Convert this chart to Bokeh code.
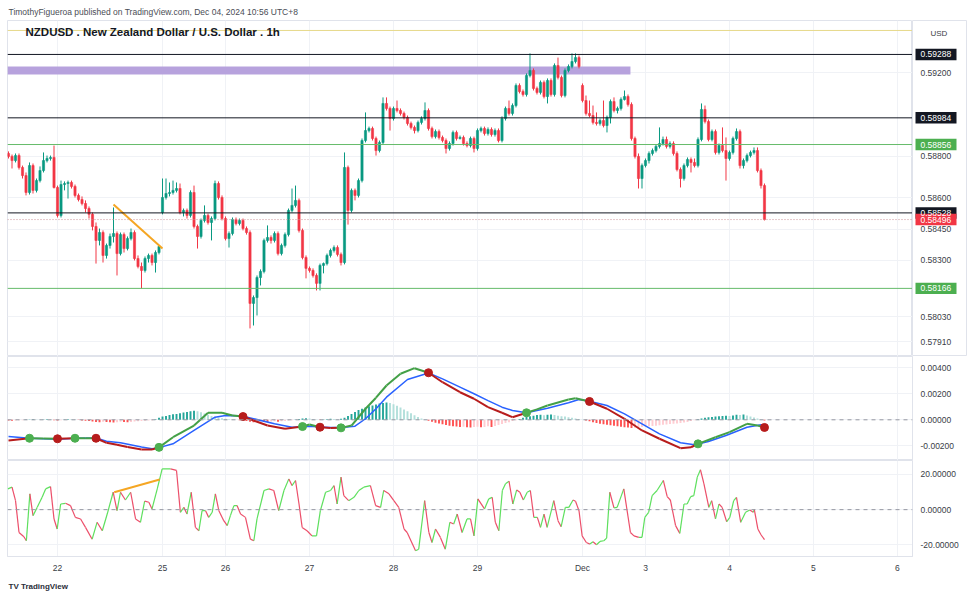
from bokeh.plotting import figure
from bokeh.layouts import column, row
from bokeh.models import (Range1d, FixedTicker, Span, Label, ColumnDataSource,
                          PrintfTickFormatter, Title)
from bokeh.core.properties import value
from bokeh.embed import file_html
from bokeh.resources import INLINE

# ---------------- data (hourly NZDUSD candles, bar index 0 = Nov 22 00:00 UTC+8) ----------------
first_bar = -14
candle_open = [
 0.58813,0.58799,0.58779,0.58803,0.58746,0.58707,0.58626,0.58755,0.58636,0.58683,
 0.58731,0.58779,0.58789,0.58794,0.58650,0.58516,0.58664,0.58669,0.58674,0.58655,
 0.58612,0.58592,0.58573,0.58549,0.58521,0.58463,0.58396,0.58434,0.58324,0.58372,
 0.58415,0.58429,0.58333,0.58424,0.58357,0.58405,0.58434,0.58309,0.58271,0.58252,
 0.58309,0.58324,0.58290,0.58338,0.58530,0.58602,0.58621,0.58626,0.58636,0.58645,
 0.58530,0.58540,0.58516,0.58626,0.58463,0.58415,0.58492,0.58516,0.58482,0.58501,
 0.58669,0.58602,0.58501,0.58405,0.58429,0.58496,0.58477,0.58492,0.58453,0.58434,
 0.58094,0.58122,0.58218,0.58247,0.58396,0.58410,0.58396,0.58429,0.58333,0.58372,
 0.58424,0.58540,0.58564,0.58588,0.58444,0.58314,0.58262,0.58252,0.58228,0.58190,
 0.58276,0.58285,0.58324,0.58348,0.58362,0.58329,0.58290,0.58746,0.58540,0.58636,
 0.58612,0.58683,0.58875,0.58923,0.58933,0.58885,0.58827,0.58866,0.59053,0.59029,
 0.58981,0.59029,0.59019,0.59005,0.58986,0.58957,0.58938,0.58923,0.58962,0.58981,
 0.59019,0.58933,0.58894,0.58918,0.58890,0.58875,0.58837,0.58861,0.58914,0.58885,
 0.58890,0.58861,0.58851,0.58885,0.58837,0.58923,0.58933,0.58909,0.58928,0.58904,
 0.58923,0.58875,0.58981,0.59029,0.59005,0.59043,0.59139,0.59110,0.59096,0.59187,
 0.59211,0.59125,0.59106,0.59154,0.59086,0.59163,0.59096,0.59235,0.59178,0.59091,
 0.59211,0.59230,0.59254,0.59273,0.59139,0.59067,0.59005,0.58995,0.58962,0.58957,
 0.58971,0.58947,0.58986,0.59062,0.59019,0.59029,0.59072,0.59086,0.59048,0.58885,
 0.58799,0.58693,0.58755,0.58779,0.58813,0.58827,0.58847,0.58861,0.58880,0.58847,
 0.58861,0.58813,0.58736,0.58693,0.58755,0.58784,0.58770,0.58755,0.58880,0.59024,
 0.58966,0.58880,0.58918,0.58818,0.58851,0.58827,0.58789,0.58818,0.58885,0.58918,
 0.58755,0.58779,0.58803,0.58818,0.58827,0.58731,0.58659]
candle_high = [
 0.58823,0.58808,0.58813,0.58813,0.58755,0.58722,0.58770,0.58765,0.58693,0.58751,
 0.58818,0.58803,0.58803,0.58851,0.58659,0.58683,0.58679,0.58683,0.58683,0.58664,
 0.58621,0.58607,0.58588,0.58559,0.58530,0.58482,0.58453,0.58444,0.58381,0.58429,
 0.58554,0.58439,0.58434,0.58434,0.58415,0.58453,0.58444,0.58324,0.58290,0.58319,
 0.58333,0.58333,0.58348,0.58372,0.58693,0.58693,0.58674,0.58683,0.58674,0.58669,
 0.58549,0.58549,0.58636,0.58659,0.58472,0.58501,0.58564,0.58525,0.58511,0.58683,
 0.58679,0.58612,0.58511,0.58439,0.58506,0.58506,0.58501,0.58501,0.58463,0.58444,
 0.58132,0.58228,0.58257,0.58405,0.58468,0.58420,0.58439,0.58439,0.58381,0.58434,
 0.58549,0.58645,0.58659,0.58597,0.58453,0.58324,0.58271,0.58262,0.58238,0.58285,
 0.58290,0.58333,0.58357,0.58372,0.58372,0.58338,0.58818,0.58755,0.58645,0.58645,
 0.58693,0.58885,0.59010,0.58942,0.58942,0.58894,0.58875,0.59082,0.59082,0.59038,
 0.59038,0.59067,0.59029,0.59014,0.58995,0.58966,0.58947,0.58971,0.58991,0.59058,
 0.59029,0.58942,0.58928,0.58928,0.58899,0.58885,0.58871,0.58923,0.58923,0.58899,
 0.58899,0.58871,0.58894,0.58894,0.58933,0.58942,0.58942,0.58938,0.58938,0.58933,
 0.58933,0.58991,0.59038,0.59067,0.59053,0.59149,0.59149,0.59120,0.59197,0.59293,
 0.59221,0.59134,0.59163,0.59163,0.59173,0.59173,0.59245,0.59273,0.59187,0.59221,
 0.59240,0.59293,0.59293,0.59283,0.59149,0.59091,0.59067,0.59043,0.59010,0.58981,
 0.59067,0.58995,0.59072,0.59082,0.59038,0.59082,0.59115,0.59096,0.59058,0.58894,
 0.58813,0.58765,0.58789,0.58823,0.58837,0.58856,0.58938,0.58894,0.58894,0.58871,
 0.58871,0.58823,0.58746,0.58765,0.58794,0.58794,0.58789,0.58890,0.59053,0.59043,
 0.58976,0.58928,0.58928,0.58861,0.58938,0.58890,0.58827,0.58894,0.58933,0.58928,
 0.58789,0.58813,0.58827,0.58842,0.58842,0.58741,0.58669]
candle_low = [
 0.58789,0.58741,0.58770,0.58736,0.58693,0.58612,0.58616,0.58621,0.58626,0.58674,
 0.58722,0.58770,0.58779,0.58645,0.58506,0.58506,0.58636,0.58597,0.58645,0.58602,
 0.58583,0.58564,0.58530,0.58501,0.58444,0.58285,0.58372,0.58290,0.58309,0.58357,
 0.58386,0.58228,0.58324,0.58338,0.58348,0.58396,0.58300,0.58262,0.58166,0.58242,
 0.58290,0.58276,0.58242,0.58329,0.58521,0.58592,0.58607,0.58616,0.58626,0.58521,
 0.58511,0.58501,0.58506,0.58453,0.58357,0.58405,0.58482,0.58472,0.58396,0.58492,
 0.58592,0.58492,0.58396,0.58362,0.58420,0.58468,0.58468,0.58444,0.58424,0.57974,
 0.57988,0.58036,0.58180,0.58238,0.58386,0.58381,0.58386,0.58324,0.58324,0.58362,
 0.58415,0.58530,0.58554,0.58434,0.58305,0.58214,0.58242,0.58218,0.58156,0.58156,
 0.58238,0.58276,0.58314,0.58338,0.58319,0.58276,0.58281,0.58472,0.58530,0.58588,
 0.58602,0.58674,0.58866,0.58914,0.58875,0.58803,0.58818,0.58856,0.59019,0.58923,
 0.58971,0.59010,0.58995,0.58976,0.58947,0.58928,0.58909,0.58914,0.58952,0.58971,
 0.58923,0.58885,0.58885,0.58880,0.58866,0.58813,0.58827,0.58851,0.58875,0.58880,
 0.58851,0.58842,0.58842,0.58818,0.58827,0.58914,0.58899,0.58899,0.58894,0.58894,
 0.58866,0.58866,0.58971,0.58995,0.58995,0.59034,0.59101,0.59086,0.59086,0.59178,
 0.59115,0.59096,0.59096,0.59077,0.59053,0.59086,0.59086,0.59168,0.59082,0.59082,
 0.59202,0.59221,0.59245,0.59221,0.59058,0.58995,0.58986,0.58952,0.58947,0.58947,
 0.58938,0.58914,0.58957,0.59010,0.59005,0.59019,0.59067,0.59038,0.58875,0.58789,
 0.58645,0.58645,0.58746,0.58765,0.58803,0.58818,0.58837,0.58851,0.58837,0.58837,
 0.58803,0.58727,0.58650,0.58683,0.58746,0.58722,0.58746,0.58746,0.58871,0.58957,
 0.58871,0.58871,0.58808,0.58808,0.58818,0.58683,0.58779,0.58808,0.58875,0.58741,
 0.58741,0.58770,0.58794,0.58808,0.58722,0.58645,0.58492]
candle_close = [
 0.58799,0.58779,0.58803,0.58746,0.58707,0.58626,0.58755,0.58636,0.58683,0.58731,
 0.58779,0.58789,0.58794,0.58650,0.58516,0.58664,0.58669,0.58674,0.58655,0.58612,
 0.58592,0.58573,0.58549,0.58521,0.58463,0.58396,0.58434,0.58324,0.58372,0.58415,
 0.58429,0.58333,0.58424,0.58357,0.58405,0.58434,0.58309,0.58271,0.58252,0.58309,
 0.58324,0.58290,0.58338,0.58367,0.58602,0.58621,0.58626,0.58636,0.58645,0.58530,
 0.58540,0.58516,0.58626,0.58463,0.58415,0.58492,0.58516,0.58482,0.58501,0.58669,
 0.58602,0.58501,0.58405,0.58429,0.58496,0.58477,0.58492,0.58453,0.58434,0.58094,
 0.58122,0.58218,0.58247,0.58396,0.58410,0.58396,0.58429,0.58333,0.58372,0.58424,
 0.58540,0.58564,0.58588,0.58444,0.58314,0.58262,0.58252,0.58228,0.58190,0.58276,
 0.58285,0.58324,0.58348,0.58362,0.58329,0.58290,0.58746,0.58540,0.58636,0.58612,
 0.58683,0.58875,0.58923,0.58933,0.58885,0.58827,0.58866,0.59053,0.59029,0.58981,
 0.59029,0.59019,0.59005,0.58986,0.58957,0.58938,0.58923,0.58962,0.58981,0.59019,
 0.58933,0.58894,0.58918,0.58890,0.58875,0.58837,0.58861,0.58914,0.58885,0.58890,
 0.58861,0.58851,0.58885,0.58837,0.58923,0.58933,0.58909,0.58928,0.58904,0.58923,
 0.58875,0.58981,0.59029,0.59005,0.59043,0.59139,0.59110,0.59096,0.59187,0.59211,
 0.59125,0.59106,0.59154,0.59086,0.59163,0.59096,0.59235,0.59178,0.59091,0.59211,
 0.59230,0.59254,0.59273,0.59230,0.59067,0.59005,0.58995,0.58962,0.58957,0.58971,
 0.58947,0.58986,0.59062,0.59019,0.59029,0.59072,0.59086,0.59048,0.58885,0.58799,
 0.58693,0.58755,0.58779,0.58813,0.58827,0.58847,0.58861,0.58880,0.58847,0.58861,
 0.58813,0.58736,0.58693,0.58755,0.58784,0.58770,0.58755,0.58880,0.59024,0.58966,
 0.58880,0.58918,0.58818,0.58851,0.58827,0.58789,0.58818,0.58885,0.58918,0.58755,
 0.58779,0.58803,0.58818,0.58827,0.58731,0.58659,0.58496]

# day labels on the time scale (bar index of first bar of each day)
day_bars = [0, 30, 48, 72, 96, 120, 150, 168, 192, 216, 240]
day_labels = ["22", "25", "26", "27", "28", "29", "Dec", "3", "4", "5", "6"]

price_ticks = [0.57910, 0.58030, 0.58300, 0.58450, 0.58600, 0.58800, 0.59200]
level_prices = [0.59288, 0.58984, 0.58856, 0.58528, 0.58166]
level_kinds = ["black", "black", "green", "black", "green"]
last_price = 0.58496
top_line_price = 0.59403
zone_bars = [-14.3, 163.7]
zone_prices = [0.59192, 0.59230]
trend_bars = [16, 30]
trend_prices = [0.58568, 0.58357]

# MACD pane
macd_bars = [-14, -8, -4, 0, 5, 8, 11, 14, 17, 20, 24, 27, 29, 33, 39, 43, 47, 50, 53, 56,
             60, 65, 70, 72, 75, 78, 81, 84, 88, 91, 94, 98, 102, 106, 110, 115, 119, 123, 127, 130,
             134, 137, 140, 146, 148, 152, 157, 162, 167, 172, 178, 181, 183, 188, 192, 197, 200, 202]
macd_vals = [-0.00159, -0.00142, -0.00143, -0.00146, -0.00142, -0.00142, -0.00142, -0.00177, -0.00192, -0.00210,
             -0.00228, -0.00228, -0.00212, -0.00134, -0.00044, 0.00054, 0.00054, 0.00033, 0.00025, -0.00005,
             -0.00044, -0.00069, -0.00052, -0.00036, -0.00057, -0.00063, -0.00062, -0.00044, 0.00085, 0.00170,
             0.00264, 0.00354, 0.00397, 0.00362, 0.00289, 0.00212, 0.00162, 0.00097, 0.00054, 0.00020,
             0.00054, 0.00080, 0.00110, 0.00156, 0.00166, 0.00141, 0.00085, 0.00008, -0.00082, -0.00146,
             -0.00218, -0.00211, -0.00185, -0.00134, -0.00095, -0.00031, -0.00044, -0.00059]
signal_bars = [-14, -8, -4, 0, 5, 11, 14, 18, 24, 27, 29, 33, 39, 45, 48, 52, 53, 56, 62, 67,
               70, 72, 75, 78, 81, 85, 88, 91, 94, 100, 106, 110, 115, 119, 123, 127, 130, 134, 140, 146,
               149, 152, 157, 162, 167, 172, 178, 182, 183, 186, 191, 197, 201, 202]
signal_vals = [-0.00128, -0.00142, -0.00146, -0.00150, -0.00142, -0.00140, -0.00165, -0.00177, -0.00210, -0.00223,
               -0.00214, -0.00185, -0.00082, 0.00020, 0.00033, 0.00031, 0.00027, 0.00008, -0.00031, -0.00057,
               -0.00053, -0.00049, -0.00055, -0.00059, -0.00060, -0.00049, 0.00008, 0.00085, 0.00174, 0.00310,
               0.00360, 0.00315, 0.00251, 0.00200, 0.00148, 0.00097, 0.00072, 0.00054, 0.00089, 0.00131,
               0.00156, 0.00142, 0.00110, 0.00046, -0.00031, -0.00108, -0.00177, -0.00192, -0.00187, -0.00167,
               -0.00121, -0.00057, -0.00038, -0.00046]
hist_vals = [  # one value per candle, x 1e-4
 -0.5, -0.8, -0.6, -0.4, -0.3, 0.2, 0.3,
 0.4, 0.3, 0.2, 0.3, 0.4, 0.2, -0.3,
 -0.6, -0.4, 0.3, 0.5, 0.4, 0.3, -0.2, -0.5, -0.8, -1.0,
 -1.4, -1.6, -1.8, -1.5, -1.6, -1.8, -2.0, -1.8, -1.5, -1.7,
 -1.9, -1.6, -1.4, -1.2, -1.0, -0.8, -0.5, -0.3, 0.5, 1.5,
 2.5, 3.0, 3.6, 4.2, 4.5, 5.0, 5.6, 6.0, 6.5, 7.0,
 6.5, 5.8, 4.8, 3.8, 3.0, 2.4, 1.8, 1.2, 0.8, 0.5,
 0.3, 0.1, -0.3, -0.6, -1.0, -1.5, -1.8, -1.6, -1.3, -1.5,
 -1.7, -1.4, -1.2, -1.5, -1.2, -0.9, -0.6, -0.3, 0.2, 0.6,
 1.0, 1.2, 1.0, 0.6, 0.3, -0.2, 0.3, 0.5, 0.8, 0.6,
 0.4, 0.8, 1.5, 3.0, 4.5, 6.0, 7.5, 8.5, 9.5, 10.5,
 11.0, 11.8, 12.5, 13.0, 13.3, 13.0, 12.0, 10.8, 9.5, 8.0,
 6.5, 5.0, 3.5, 2.2, 1.0, 0.2, -0.8, -1.5, -2.2, -2.8,
 -3.4, -4.0, -4.5, -5.0, -5.2, -5.6, -5.4, -5.8, -6.0, -5.6,
 -5.4, -5.8, -5.5, -5.0, -5.6, -4.8, -4.0, -3.2, -2.5, -1.8,
 -1.0, -0.3, 0.6, 1.5, 2.2, 2.8, 3.2, 3.6, 3.8, 3.5,
 3.8, 4.0, 3.6, 3.2, 2.8, 2.5, 2.0, 1.5, 1.0, 0.6,
 0.2, -0.5, -1.2, -1.8, -2.5, -3.0, -3.5, -3.8, -4.2, -4.6,
 -5.0, -5.4, -5.8, -6.0, -6.4, -6.2, -6.0, -5.6, -5.2, -5.0,
 -4.8, -4.5, -4.2, -3.8, -3.6, -3.2, -3.0, -2.8, -2.4, -2.0,
 -1.6, -1.0, -0.4, 0.4, 1.0, 1.5, 2.0, 2.2, 2.6, 2.8,
 3.0, 3.2, 3.0, 3.4, 3.8, 3.6, 4.0, 3.4, 2.6, 1.8,
 1.0, 0.2, -0.6]
cross_up_bars = [-8, 5, 29, 70, 81, 134, 183]
cross_up_vals = [-0.00142, -0.00142, -0.00212, -0.00052, -0.00062, 0.00054, -0.00185]
cross_dn_bars = [0, 11, 53, 75, 106, 152, 202]
cross_dn_vals = [-0.00146, -0.00142, 0.00025, -0.00057, 0.00362, 0.00141, -0.00059]

# oscillator pane
osc_bars = [-14.2, -13.0, -12.0, -11.0, -9.6, -8.9, -7.9, -7.0, -5.8, -4.4, -3.4, -2.0, -1.0, -0.1, 0.9, 2.3, 3.7,
            5.1, 6.6, 8.0, 9.9, 11.3, 12.8, 14.2, 15.9, 17.0, 18.0, 19.4, 20.9, 22.3, 23.7, 24.9, 26.1, 27.0,
            28.5, 29.9, 32.3, 34.0, 35.1, 36.1, 37.0, 38.2, 39.4, 40.4, 41.3, 42.3, 43.2, 44.2, 45.1, 46.1,
            47.5, 48.5, 49.4, 50.4, 51.3, 52.3, 53.7, 55.1, 56.1, 57.0, 59.0, 60.4, 61.8, 63.2, 64.7, 66.1,
            67.0, 68.0, 69.0, 69.9, 71.3, 72.7, 74.0, 75.1, 76.6, 78.0, 79.0, 79.9, 81.0, 81.8, 83.2, 84.7,
            86.1, 87.5, 89.4, 90.9, 92.3, 93.2, 94.7, 96.1, 97.5, 99.0, 99.9, 102.3, 103.2, 104.9, 106.1,
            107.0, 108.0, 109.4, 110.8, 112.1, 113.2, 114.2, 115.6, 117.0, 118.0, 119.0, 120.1, 122.0, 123.2,
            124.2, 125.1, 126.1, 127.1, 128.0, 129.0, 130.1, 131.2, 132.1, 133.1, 134.2, 135.1, 136.1, 137.1,
            138.0, 139.0, 139.9, 141.8, 143.0, 143.9, 145.1, 146.1, 147.3, 148.0, 149.0, 149.9, 151.1, 152.1,
            153.0, 154.0, 155.0, 156.1, 156.9, 157.8, 159.0, 159.9, 161.8, 163.7, 164.7, 166.1, 167.0, 167.8,
            168.9, 169.9, 171.3, 173.1, 174.2, 175.1, 176.6, 177.8, 179.0, 179.9, 180.9, 181.8, 182.8, 183.7,
            184.7, 186.1, 186.9, 188.0, 189.0, 189.9, 191.2, 192.1, 193.2, 194.0, 195.2, 196.6, 197.8, 198.8,
            199.1, 200.1, 201.0, 202.0]
osc_vals = [11.8, 12.8, 5.1, -13.0, -15.4, -17.7, 9.0, -3.4, 1.3, 7.0, 11.8, 13.1, -5.3, -11.0, 3.2, 3.6, 2.3,
            -4.4, -5.3, -10.1, -16.8, -7.2, -12.0, -2.5, 9.9, -0.6, 9.9, 5.5, 9.9, -5.3, -7.2, 4.8, 4.2, 0.4,
            11.8, 23.2, 23.2, 22.3, -1.5, 1.3, -2.5, 9.9, -10.1, -12.0, -0.6, -0.6, -4.4, -1.5, 9.0, -0.6,
            -6.3, -9.1, -3.4, 2.3, 2.3, -2.5, -4.4, -16.8, -17.7, -5.3, 10.9, 11.8, 10.9, -0.6, 10.9, 17.5,
            13.7, 16.6, 3.2, -10.1, -12.0, -14.9, -14.9, -0.6, 9.9, 10.9, 13.7, 3.2, 18.5, 8.0, 5.1, 7.0,
            10.9, 12.8, 13.7, 2.3, 1.3, 10.9, 9.0, 5.1, 1.3, -11.0, -13.0, -23.4, -22.5, 5.1, -13.0,
            -18.7, -11.0, -15.8, -22.5, -7.2, -8.2, -2.5, -13.0, -5.3, -5.3, -14.9, 6.1, 0.4, 6.1,
            7.0, -7.2, -12.0, 10.9, 14.7, 16.2, 3.2, 11.2, 9.9, 5.5, 9.9, 10.9, -4.4, -4.4,
            -10.1, -2.5, -10.1, 5.1, -6.3, -9.7, 1.3, 1.3, 5.5, 4.8, -0.6, -14.9, -18.7, -19.6,
            -18.3, -20.0, -18.1, -17.7, -16.2, 9.9, 1.0, 1.3, 11.8, -13.0, -14.9, -15.8, -15.8, -4.4,
            -1.5, 8.0, 10.9, 16.6, 7.4, 5.5, -9.1, -13.5, 3.2, 3.2, 7.4, 8.0, 18.5, 22.7,
            14.7, 1.3, 5.1, -5.3, 3.2, 1.3, -6.9, -4.4, 5.1, 7.0, -7.2, -1.5, -0.2, -1.5,
            0.0, -11.0, -14.3, -17.1]
osc_trend_bars = [16.2, 29.2]
osc_trend_vals = [9.9, 17.1]
osc_ticks = [-20, 0, 20]
macd_ticks = [-0.002, 0.0, 0.002, 0.004]

# ---------------- styling ----------------
FONT = "Liberation Sans"
TXT = "#3a3d46"
GRID = "#f0f2f6"
BORDER = "#e0e3eb"
UP = "#089981"
DOWN = "#f23645"
SCALE_W = 55

x_range = Range1d(-14.29, 244.29)


def style_frame(f):
    f.outline_line_color = BORDER
    f.background_fill_color = "white"
    f.border_fill_color = "white"


def pane(height, top, bottom, y_range, show_x, ticks):
    f = figure(width=912 + SCALE_W, height=height, x_range=x_range, y_range=y_range,
               output_backend="svg", toolbar_location=None,
               x_axis_location="below" if show_x else None, y_axis_location="right",
               min_border_left=7, min_border_right=SCALE_W, min_border_top=top, min_border_bottom=bottom)
    style_frame(f)
    f.xgrid.ticker = FixedTicker(ticks=day_bars)
    f.xgrid.grid_line_color = GRID
    f.ygrid.grid_line_color = GRID
    t = FixedTicker(ticks=ticks)
    ax = f.yaxis[0]
    ax.ticker = t
    f.ygrid.ticker = t
    ax.major_tick_line_color = None
    ax.minor_tick_line_color = None
    ax.major_tick_out = 0
    ax.major_tick_in = 0
    ax.axis_line_color = BORDER
    ax.major_label_standoff = 8
    ax.major_label_text_font = FONT
    ax.major_label_text_font_size = "8.5px"
    ax.major_label_text_color = TXT
    ax.formatter = PrintfTickFormatter(format="%.5f")
    return f


# ---- price pane (chart area + its own price scale strip) ----
price_range = Range1d(0.578393, 0.594508)
p1 = figure(width=912, height=356, x_range=x_range, y_range=price_range,
            output_backend="svg", toolbar_location=None,
            x_axis_location=None, y_axis_location=None,
            min_border_left=7, min_border_right=0, min_border_top=20, min_border_bottom=0)
style_frame(p1)
p1.xgrid.ticker = FixedTicker(ticks=day_bars)
p1.xgrid.grid_line_color = GRID
p1.ygrid.ticker = FixedTicker(ticks=price_ticks)
p1.ygrid.grid_line_color = GRID
p1.add_layout(Title(text="TimothyFigueroa published on TradingView.com, Dec 04, 2024 10:56 UTC+8",
                    align="left", offset=1, standoff=7, text_font=FONT, text_font_size="8.5px",
                    text_font_style="normal", text_color="#4a4d55"), "above")

bars = list(range(first_bar, first_bar + len(candle_close)))
ccol = [UP if c >= o else DOWN for o, c in zip(candle_open, candle_close)]
src = ColumnDataSource(dict(x=bars, h=candle_high, l=candle_low,
                            top=[max(o, c) for o, c in zip(candle_open, candle_close)],
                            bot=[min(o, c) for o, c in zip(candle_open, candle_close)],
                            col=ccol))

p1.quad(left=[zone_bars[0]], right=[zone_bars[1]], bottom=[zone_prices[0]], top=[zone_prices[1]],
        fill_color="#b39ddb", fill_alpha=0.95, line_color=None)
p1.add_layout(Span(location=top_line_price, dimension="width", line_color="#e6d98a", line_width=1))
lvl_color = {"black": "#131722", "green": "#66bb6a"}
tag_color = {"black": "#131722", "green": "#4caf50"}
for pr, kind in zip(level_prices, level_kinds):
    p1.add_layout(Span(location=pr, dimension="width", line_color=lvl_color[kind], line_width=1))
p1.add_layout(Span(location=last_price, dimension="width", line_color="#c98f96",
                   line_width=1, line_dash="1 2"))

p1.segment(x0="x", y0="h", x1="x", y1="l", line_color="col", line_width=1, source=src)
p1.vbar(x="x", width=0.62, top="top", bottom="bot", fill_color="col", line_color="col",
        line_width=0.6, source=src)
p1.line(trend_bars, trend_prices, line_color="#f5a623", line_width=2)

p1.add_layout(Label(x=18, y=325, x_units="screen", y_units="screen",
                    text="NZDUSD . New Zealand Dollar / U.S. Dollar . 1h",
                    text_font=FONT, text_font_size="11.5px", text_font_style="bold",
                    text_color="#131722", text_baseline="middle"))

# price scale strip: tick labels and level tags share the chart's price range
ps = figure(width=SCALE_W, height=356, x_range=Range1d(0, SCALE_W), y_range=price_range,
            output_backend="svg", toolbar_location=None,
            x_axis_location=None, y_axis_location=None,
            min_border_left=0, min_border_right=0, min_border_top=20, min_border_bottom=0)
ps.outline_line_color = BORDER
ps.grid.visible = False
ps.add_layout(Title(text=" ", align="left", standoff=7, text_font=FONT, text_font_size="8.5px"), "above")
ps.text(x=[8] * len(price_ticks), y=price_ticks, text=["%.5f" % t for t in price_ticks],
        text_font=value(FONT), text_font_size="8.5px", text_color=TXT, text_baseline="middle")
tag_prices = level_prices + [last_price]
tag_fill = [tag_color[k] for k in level_kinds] + [DOWN]
ps.rect(x=[23.5] * len(tag_prices), y=tag_prices, width=41, height=0.00055,
        fill_color=tag_fill, line_color=None)
ps.text(x=[8] * len(tag_prices), y=tag_prices, text=["%.5f" % v for v in tag_prices],
        text_font=value(FONT), text_font_size="8.5px", text_color="white", text_baseline="middle")
ps.add_layout(Label(x=18, y=323, x_units="screen", y_units="screen", text="USD",
                    text_font=FONT, text_font_size="8px", text_color=TXT, text_baseline="middle"))

# ---- MACD pane ----
p2 = pane(104, 0, 0, Range1d(-0.003131, 0.004869), False, macd_ticks)
p2.add_layout(Span(location=0, dimension="width", line_color="#9598a1", line_width=1, line_dash="4 4"))

hv = [v * 1e-4 for v in hist_vals]
hcol = []
for k, v in enumerate(hv):
    prev = hv[k - 1] if k > 0 else v
    if v >= 0:
        hcol.append("#26a69a" if v >= prev else "#b2dfdb")
    else:
        hcol.append("#ff5252" if v <= prev else "#ffcdd2")
p2.vbar(x=bars, top=hv, bottom=0, width=0.55, fill_color=hcol, line_color=None)

p2.line(signal_bars, signal_vals, line_color="#2962ff", line_width=1.5)

events = sorted([(b, True) for b in cross_up_bars] + [(b, False) for b in cross_dn_bars])


def bullish(xm):
    state = False
    for b, up in events:
        if b <= xm:
            state = up
    return state


segx, segy, segc = [], [], []
for k in range(len(macd_bars) - 1):
    segx.append([macd_bars[k], macd_bars[k + 1]])
    segy.append([macd_vals[k], macd_vals[k + 1]])
    segc.append("#43a047" if bullish((macd_bars[k] + macd_bars[k + 1]) / 2) else "#b71c1c")
p2.multi_line(segx, segy, line_color=segc, line_width=2)
p2.scatter(cross_up_bars, cross_up_vals, size=8, fill_color="#4caf50", line_color="#4caf50")
p2.scatter(cross_dn_bars, cross_dn_vals, size=8, fill_color="#b71c1c", line_color="#b71c1c")

# ---- oscillator pane ----
p3 = pane(136, 0, 40, Range1d(-26.66, 27.96), True, osc_ticks)
p3.add_layout(Span(location=0, dimension="width", line_color="#9598a1", line_width=1, line_dash="4 4"))
ox, oy, oc = [], [], []
for k in range(len(osc_bars) - 1):
    ox.append([osc_bars[k], osc_bars[k + 1]])
    oy.append([osc_vals[k], osc_vals[k + 1]])
    oc.append("#5ee05e" if osc_vals[k + 1] >= osc_vals[k] else "#ec4f6a")
p3.multi_line(ox, oy, line_color=oc, line_width=1.2)
p3.line(osc_trend_bars, osc_trend_vals, line_color="#f5a623", line_width=2)

xa = p3.xaxis[0]
xa.ticker = FixedTicker(ticks=day_bars)
xa.major_label_overrides = {b: lab for b, lab in zip(day_bars, day_labels)}
xa.major_tick_line_color = None
xa.minor_tick_line_color = None
xa.major_tick_out = 0
xa.major_tick_in = 0
xa.axis_line_color = BORDER
xa.major_label_standoff = 6
xa.major_label_text_font = FONT
xa.major_label_text_font_size = "8.5px"
xa.major_label_text_color = TXT
p3.add_layout(Title(text="TV TradingView", align="left", offset=1, standoff=9,
                    text_font=FONT, text_font_size="8px", text_font_style="bold",
                    text_color="#2a2e39"), "below")

layout = column(row(p1, ps, spacing=0), p2, p3, spacing=0)
open("out.html", "w").write(file_html(layout, INLINE))
